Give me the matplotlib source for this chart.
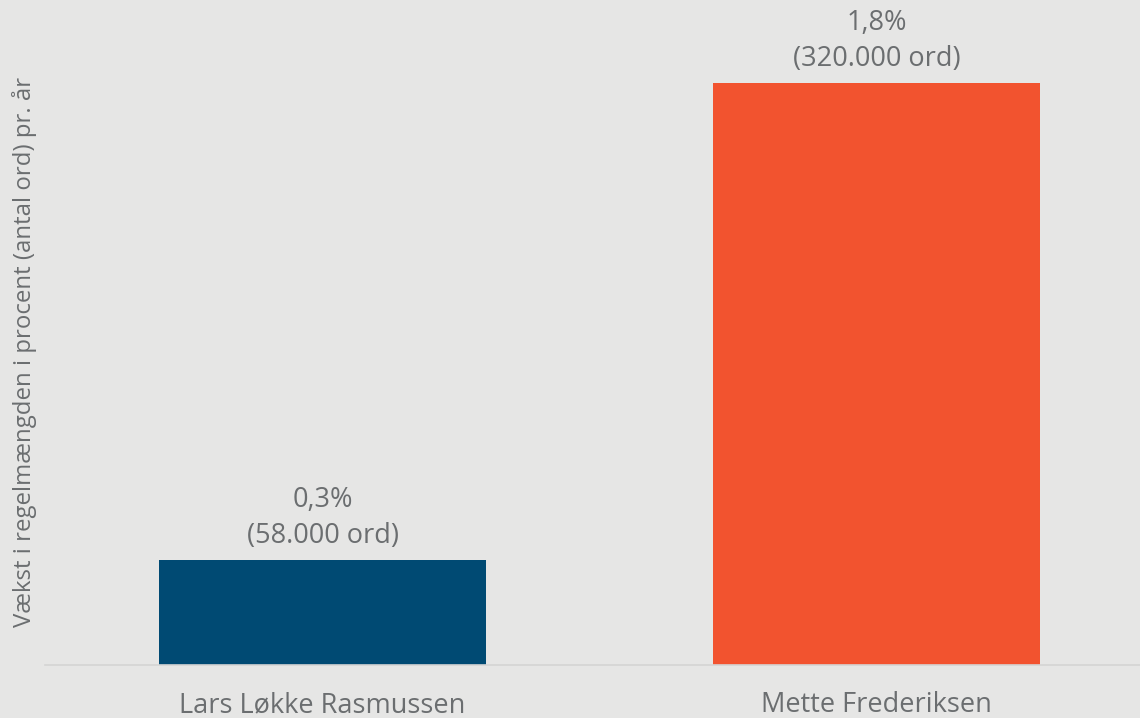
import matplotlib
matplotlib.use('agg')
import matplotlib.pyplot as plt

# data
names = ['Lars Løkke Rasmussen', 'Mette Frederiksen']
words = [58000, 320000]
pct_labels = ['0,3%', '1,8%']
word_labels = ['(58.000 ord)', '(320.000 ord)']
colors = ['#004A73', '#F2532F']

bg = '#E6E6E5'
txt = '#6B6E70'
plt.rcParams['font.family'] = ['Open Sans', 'DejaVu Sans']

fig = plt.figure(figsize=(11.4, 7.18), dpi=100, facecolor=bg)
ax = fig.add_axes([45/1140, (718-665)/718, 1095/1140, 665/718])
ax.set_facecolor(bg)

x = [0, 1]
bars = ax.bar(x, words, width=0.59, color=colors, zorder=2)
ax.set_xlim(-0.501, 1.4756)
ax.set_ylim(0, 365636)

for xi, w, p, wl in zip(x, words, pct_labels, word_labels):
    ax.annotate(p + '\n' + wl, (xi, w), xytext=(0, 7), textcoords='offset points',
                ha='center', va='bottom', fontsize=19.5, color=txt, linespacing=1.38)

ax.set_xticks(x)
ax.set_xticklabels(names, fontsize=19.5, color=txt)
ax.tick_params(axis='x', length=0, pad=19)
ax.set_yticks([])
for s in ['top', 'right', 'left']:
    ax.spines[s].set_visible(False)
ax.spines['bottom'].set_color('#D4D4D4')
ax.spines['bottom'].set_linewidth(1.2)

fig.text(25/1140, 1 - 352/718, 'Vækst i regelmængden i procent (antal ord) pr. år',
         rotation=90, ha='center', va='center', fontsize=17.3, color=txt)

fig.savefig('out.png', dpi=100, facecolor=bg)
